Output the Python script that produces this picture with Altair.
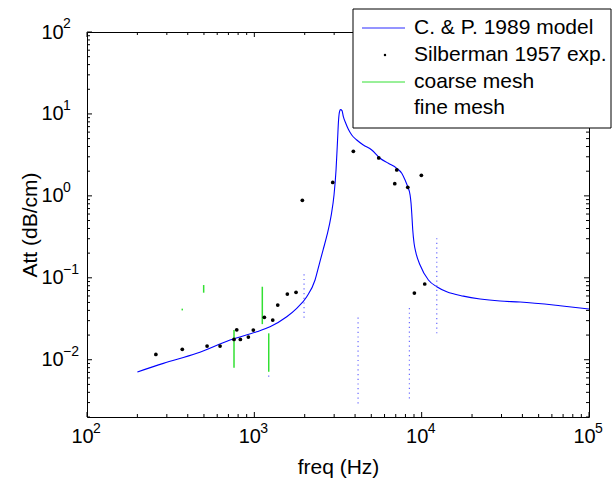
import altair as alt
import pandas as pd

# ---------------- data ----------------
model_freq = [200, 286, 453, 716, 1033, 1241, 1562, 1792, 2057, 2306, 2436, 2574,
              2720, 2874, 2995, 3078, 3143, 3187, 3230, 3275, 3343, 3404, 3518,
              3646, 3821, 4093, 4482, 5031, 5641, 6324, 7099, 7603, 7958, 8260,
              8524, 8641, 8725, 8846, 9007, 9258, 9781, 10970, 12310, 14130,
              17750, 22340, 29420, 38730, 67150, 100000]
model_att = [0.0071, 0.00903, 0.01197, 0.0174, 0.02196, 0.0253, 0.0335, 0.0424,
             0.0587, 0.094, 0.143, 0.218, 0.333, 0.567, 1.03, 2.07, 4.81, 8.44,
             10.7, 11.3, 10.96, 9.26, 7.69, 6.5, 5.54, 4.81, 4.18, 3.63, 2.88, 2.5,
             2.17, 1.89, 1.56, 1.29, 1.03, 0.811, 0.612, 0.383, 0.264, 0.199,
             0.143, 0.094, 0.0778, 0.0676, 0.0598, 0.0551, 0.052, 0.0506, 0.0456,
             0.0416]

exp_freq = [258, 371, 522, 624, 756, 785, 825, 921, 986, 1148, 1288, 1380, 1575,
            1775, 1936, 2942, 3906, 5541, 7099, 6905, 8260, 9958, 9045, 10430]
exp_att = [0.0116, 0.0134, 0.0147, 0.0147, 0.0177, 0.0232, 0.0177, 0.0189, 0.0230,
           0.0329, 0.0305, 0.0465, 0.0634, 0.0665, 0.883, 1.46, 3.50, 2.90, 2.07,
           1.41, 1.27, 1.78, 0.0652, 0.0840]

coarse_freq = [371, 498, 756, 1116, 1219]
coarse_lo = [0.0400, 0.0658, 0.00798, 0.0272, 0.00713]
coarse_hi = [0.0420, 0.0816, 0.0230, 0.0778, 0.0210]

fine_freq = [1982, 4168, 8445, 12310, 1219]
fine_lo = [0.0326, 0.00293, 0.00337, 0.0210, 0.0062]
fine_hi = [0.121, 0.0341, 0.0465, 0.327, 0.0071]

legend_labels = ["C. & P. 1989 model", "Silberman 1957 exp.", "coarse mesh", "fine mesh"]

x_major = [100, 1000, 10000, 100000]
x_exponents = ["2", "3", "4", "5"]
x_minor = [200, 300, 400, 500, 600, 700, 800, 900,
           2000, 3000, 4000, 5000, 6000, 7000, 8000, 9000,
           20000, 30000, 40000, 50000, 60000, 70000, 80000, 90000]
y_major = [0.01, 0.1, 1, 10, 100]
y_exponents = ["\u22122", "\u22121", "0", "1", "2"]
y_minor = [0.002, 0.003, 0.004, 0.005, 0.006, 0.007, 0.008, 0.009,
           0.02, 0.03, 0.04, 0.05, 0.06, 0.07, 0.08, 0.09,
           0.2, 0.3, 0.4, 0.5, 0.6, 0.7, 0.8, 0.9,
           2, 3, 4, 5, 6, 7, 8, 9,
           20, 30, 40, 50, 60, 70, 80, 90]

# ---------------- layout ----------------
W, H = 502, 385
FONT = "Liberation Sans"
LABEL_FS = 20
EXP_FS = 14

xscale = alt.Scale(type="log", domain=[100, 100000], nice=False)
yscale = alt.Scale(type="log", domain=[0.002, 100], nice=False)

x_axis = alt.Axis(values=x_major, labelExpr="'10'", ticks=False, domain=False,
                  grid=False, labelFont=FONT, labelFontSize=LABEL_FS, labelColor="black",
                  labelPadding=9, labelOffset=-5, labelFlush=False, title="freq (Hz)",
                  titleFont=FONT, titleFontSize=21, titleFontWeight="normal",
                  titleColor="black", titleX=W / 2, titleY=50, titleBaseline="middle")
y_axis = alt.Axis(values=y_major, labelExpr="'10'", ticks=False, domain=False,
                  grid=False, labelFont=FONT, labelFontSize=LABEL_FS, labelColor="black",
                  labelAlign="left", labelBaseline="middle", labelPadding=46,
                  labelFlush=False, title="Att (dB/cm)", titleFont=FONT, titleFontSize=21,
                  titleFontWeight="normal", titleColor="black",
                  titleX=-57, titleY=H / 2, titleAngle=270, titleBaseline="middle",
                  titleAlign="center")


def X(field):
    return alt.X(field, scale=xscale, axis=x_axis, title="freq (Hz)")


def Y(field):
    return alt.Y(field, scale=yscale, axis=y_axis, title="Att (dB/cm)")


model_df = pd.DataFrame({"freq": model_freq, "att": model_att})
exp_df = pd.DataFrame({"freq": exp_freq, "att": exp_att})
coarse_df = pd.DataFrame({"freq": coarse_freq, "lo": coarse_lo, "hi": coarse_hi})
fine_df = pd.DataFrame({"freq": fine_freq, "lo": fine_lo, "hi": fine_hi})

model = alt.Chart(model_df).mark_line(color="#0000ff", strokeWidth=1.1,
                                      interpolate="monotone").encode(
    x=X("freq:Q"), y=Y("att:Q"), order=alt.Order("freq:Q"),
)

fine = alt.Chart(fine_df).mark_rule(color="#6a6aff", strokeWidth=1.2,
                                    strokeDash=[1.2, 3.5]).encode(
    x=X("freq:Q"), y=Y("lo:Q"), y2="hi:Q",
)

coarse = alt.Chart(coarse_df).mark_rule(color="#33e033", strokeWidth=1.5).encode(
    x=X("freq:Q"), y=Y("lo:Q"), y2="hi:Q",
)

dots = alt.Chart(exp_df).mark_point(filled=True, color="black", size=14, opacity=1).encode(
    x=X("freq:Q"), y=Y("att:Q"),
)

# ---------------- exponent labels (superscripts) ----------------
x_exp = alt.Chart(pd.DataFrame({"v": x_major, "e": x_exponents})).mark_text(
    align="left", baseline="top", font=FONT, fontSize=EXP_FS, color="black",
    dx=6).encode(x=X("v:Q"), y=alt.value(H + 5), text="e:N")
y_exp = alt.Chart(pd.DataFrame({"v": y_major, "e": y_exponents})).mark_text(
    align="left", baseline="middle", font=FONT, fontSize=EXP_FS, color="black",
    dy=-8).encode(y=Y("v:Q"), x=alt.value(-24), text="e:N")


# ---------------- ticks (inside, on all four sides) ----------------
def xticks(vals, length):
    d = pd.DataFrame({"v": vals})
    bottom = alt.Chart(d).mark_rule(color="black", strokeWidth=1).encode(
        x=X("v:Q"), y=alt.value(H), y2=alt.value(H - length))
    top = alt.Chart(d).mark_rule(color="black", strokeWidth=1).encode(
        x=X("v:Q"), y=alt.value(0), y2=alt.value(length))
    return [bottom, top]


def yticks(vals, length):
    d = pd.DataFrame({"v": vals})
    left = alt.Chart(d).mark_rule(color="black", strokeWidth=1).encode(
        y=Y("v:Q"), x=alt.value(0), x2=alt.value(length))
    right = alt.Chart(d).mark_rule(color="black", strokeWidth=1).encode(
        y=Y("v:Q"), x=alt.value(W), x2=alt.value(W - length))
    return [left, right]


ticks = xticks(x_major, 5) + xticks(x_minor, 3) + yticks(y_major, 5) + yticks(y_minor, 3)

# ---------------- legend (drawn box) ----------------
one = pd.DataFrame({"k": [0]})
LX0, LX1, LY0, LY1 = 266, 524, -23, 96
rows = [-4, 23, 50, 76]

leg_box = alt.Chart(one).mark_rect(fill="white", stroke="black", strokeWidth=1).encode(
    x=alt.value(LX0), x2=alt.value(LX1), y=alt.value(LY0), y2=alt.value(LY1))
leg_model = alt.Chart(one).mark_rule(color="#2a2aff", strokeWidth=1).encode(
    x=alt.value(275), x2=alt.value(318), y=alt.value(rows[0]))
leg_dot = alt.Chart(one).mark_point(filled=True, color="black", size=6, opacity=1).encode(
    x=alt.value(298), y=alt.value(rows[1]))
leg_coarse = alt.Chart(one).mark_rule(color="#33e033", strokeWidth=1).encode(
    x=alt.value(275), x2=alt.value(318), y=alt.value(rows[2]))
leg_texts = [
    alt.Chart(pd.DataFrame({"t": [lab]})).mark_text(
        align="left", baseline="middle", font=FONT, fontSize=21, color="black").encode(
        text="t:N", x=alt.value(327), y=alt.value(ry))
    for lab, ry in zip(legend_labels, rows)
]

chart = alt.layer(
    model, *ticks, fine, coarse, dots, x_exp, y_exp,
    leg_box, leg_model, leg_dot, leg_coarse, *leg_texts
).properties(
    width=W, height=H,
    padding={"left": 87, "top": 32, "right": 24, "bottom": 63},
    autosize=alt.AutoSizeParams(type="none"),
    background="white",
).configure_view(stroke="black", strokeWidth=1)

chart.save("out.html", embed_options={"renderer": "svg", "actions": False})
